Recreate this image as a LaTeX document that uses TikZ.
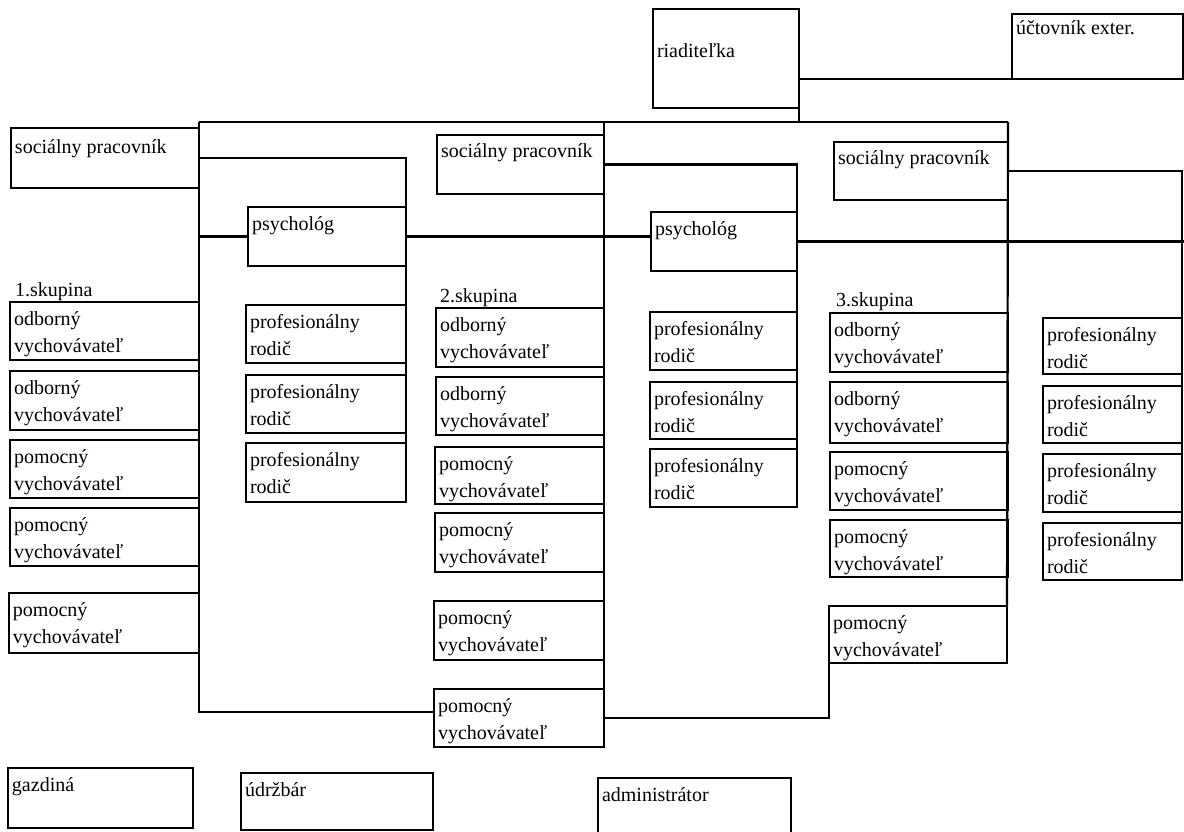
\documentclass[tikz,border=0pt]{standalone}
\usepackage{fontspec}
\setmainfont{Liberation Serif}
\tikzset{
  box/.style={draw=black, line width=2.8pt, inner sep=0pt, outer sep=0pt, anchor=north west,
              font=\fontsize{20}{27}\selectfont},
  ln/.style={draw=black, line width=2.2pt},
  lbl/.style={inner sep=0pt, anchor=base west, font=\fontsize{20}{27}\selectfont}
}
% \bx[top-to-baseline]{name}{x1}{y1}{x2}{y2}{text}
\newcommand\bx[7][23]{%
  \node[box] (#2) at (#3,#4) {\parbox[c][\dimexpr#6pt-#4pt\relax][t]{\dimexpr#5pt-#3pt\relax}{\raggedright\leftskip=4pt\rule{0pt}{#1pt}#7}};}
\begin{document}
\begin{tikzpicture}[x=1pt,y=-1pt]
\useasboundingbox (0,0) rectangle (1184,832);

% top
\bx[49]{riad}{653}{9}{799}{108}{riaditeľka}
\bx[21]{uct}{1012}{14}{1183}{79}{účtovník exter.}

% group 1
\bx[26]{soc1}{11}{128}{199}{188}{sociálny pracovník}
\bx{psy1}{248}{207}{406}{266}{psychológ}
\node[lbl] (g1) at (15,296) {1.skupina};
\bx{odb1a}{10}{302}{199}{360}{odborný\\vychovávateľ}
\bx{odb1b}{10}{371}{199}{430}{odborný\\vychovávateľ}
\bx{pom1a}{10}{440}{199}{498}{pomocný\\vychovávateľ}
\bx{pom1b}{10}{508}{199}{566}{pomocný\\vychovávateľ}
\bx{pom1c}{9}{593}{199}{653}{pomocný\\vychovávateľ}
\bx{pr1a}{246}{305}{406}{363}{profesionálny\\rodič}
\bx{pr1b}{246}{375}{406}{433}{profesionálny\\rodič}
\bx{pr1c}{246}{443}{406}{502}{profesionálny\\rodič}

% group 2
\bx{soc2}{437}{135}{604}{194}{sociálny pracovník}
\bx{psy2}{651}{212}{797}{271}{psychológ}
\node[lbl] (g2) at (440,302) {2.skupina};
\bx{odb2a}{436}{308}{604}{367}{odborný\\vychovávateľ}
\bx{odb2b}{436}{377}{604}{435}{odborný\\vychovávateľ}
\bx{pom2a}{435}{447}{604}{504}{pomocný\\vychovávateľ}
\bx{pom2b}{435}{513}{604}{572}{pomocný\\vychovávateľ}
\bx{pom2c}{434}{601}{604}{660}{pomocný\\vychovávateľ}
\bx{pom2d}{434}{689}{604}{747}{pomocný\\vychovávateľ}
\bx{pr2a}{650}{312}{797}{370}{profesionálny\\rodič}
\bx{pr2b}{650}{382}{797}{439}{profesionálny\\rodič}
\bx{pr2c}{650}{449}{797}{507}{profesionálny\\rodič}

% group 3
\bx{soc3}{834}{142}{1008}{200}{sociálny pracovník}
\node[lbl] (g3) at (836,306) {3.skupina};
\bx{odb3a}{830}{313}{1008}{372}{odborný\\vychovávateľ}
\bx{odb3b}{830}{382}{1008}{443}{odborný\\vychovávateľ}
\bx{pom3a}{830}{452}{1008}{510}{pomocný\\vychovávateľ}
\bx{pom3b}{830}{520}{1008}{577}{pomocný\\vychovávateľ}
\bx{pom3c}{829}{606}{1007}{663}{pomocný\\vychovávateľ}
\bx{pr3a}{1043}{318}{1182}{374}{profesionálny\\rodič}
\bx{pr3b}{1043}{386}{1182}{443}{profesionálny\\rodič}
\bx{pr3c}{1043}{454}{1182}{512}{profesionálny\\rodič}
\bx{pr3d}{1043}{523}{1182}{580}{profesionálny\\rodič}

% bottom
\bx{gaz}{8}{768}{193}{828}{gazdiná}
\bx{udr}{241}{773}{433}{830}{údržbár}
\bx{adm}{598}{778}{791}{845}{administrátor}

% connectors
\coordinate (f1t) at (199,122);
\coordinate (f2t) at (604,122);
\coordinate (f3t) at (1008,122);
\coordinate (f1b) at (199,712);
\coordinate (f2b) at (604,718);
\coordinate (pedge) at (1184,246);

\draw[ln] (f1t) -- (f3t);
\draw[ln] (riad.south east) -- (riad.south east |- f1t);
\draw[ln] (riad.south east |- uct.south west) -- (uct.south west);

\draw[ln] (f1t) -- (f1b) -- (pom2d.west |- f1b);
\draw[ln] (soc1.east) -- (psy1.east |- soc1.east) -- (pr1c.south east);
\draw[ln] (psy1.west -| f1t) -- (psy1.west);
\draw[ln] (psy1.east) -- (psy1.east -| psy2.west);

\draw[ln] (f2t) -- (f2b) -- (pom3c.west |- f2b) -- (pom3c.south west);
\draw[ln] (soc2.east) -- (psy2.east |- soc2.east) -- (pr2c.south east);
\draw[ln] (psy2.east) -- (psy2.east -| pedge);

\draw[ln] (f3t) -- (pom3c.north east);
\draw[ln] (soc3.east) -- (pr3d.east |- soc3.east) -- (pr3d.south east);
\end{tikzpicture}
\end{document}
